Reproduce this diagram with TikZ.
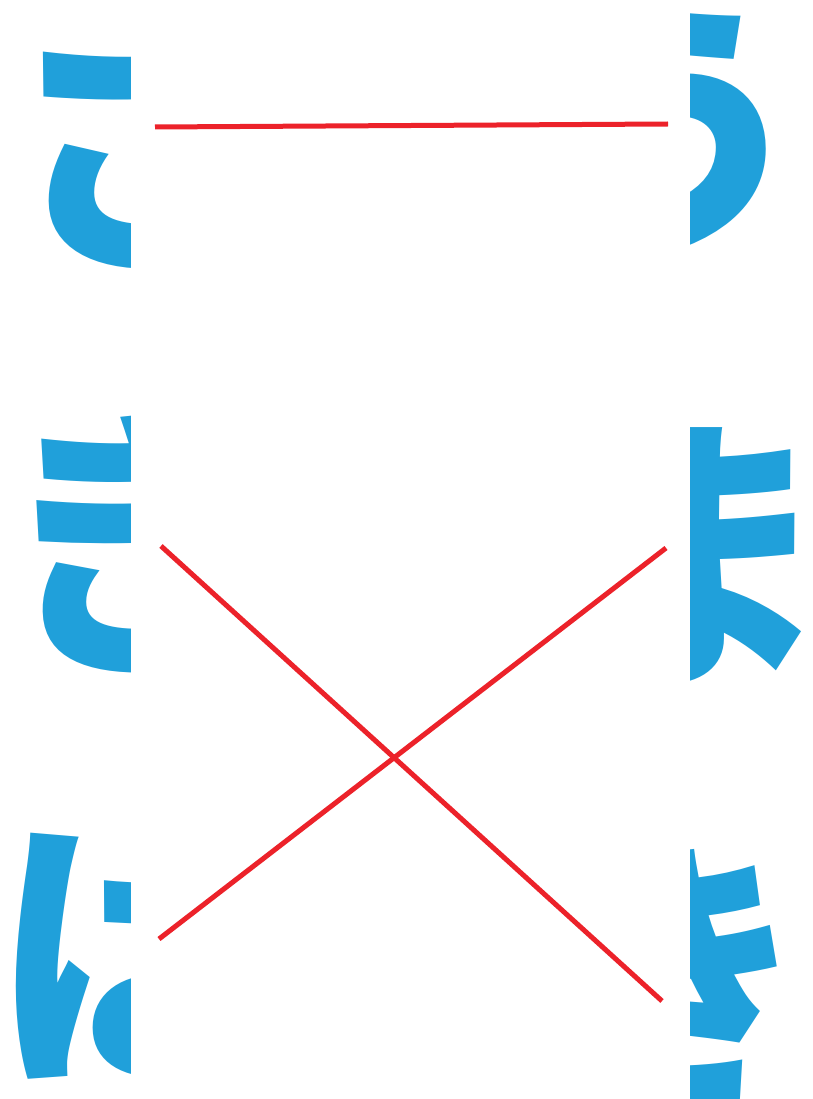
\documentclass[tikz,border=0pt]{standalone}
\usepackage{fontspec}
\newfontfamily\jp{Noto Sans CJK JP}
\definecolor{kblue}{RGB}{32,160,218}
\definecolor{kred}{RGB}{236,34,42}
\tikzset{
  glyph/.style={font=\jp\bfseries\fontsize{290}{290}\selectfont, text=kblue, inner sep=0pt, outer sep=0pt},
  link/.style={draw=kred, line width=5pt}
}
\begin{document}
\begin{tikzpicture}[x=1pt,y=-1pt]
\useasboundingbox[fill=white] (0,0) rectangle (812,1099);
% left column (clipped at x=130)
\begin{scope}
\clip (0,0) rectangle (130,1099);
\node[glyph] (L1) at (150,139) {さ};
\node[glyph] (L2) at (142,543) {き};
\node[glyph] (L3) at (138,956) {は};
\end{scope}
% right column (clipped at x=690)
\begin{scope}
\clip (690,0) rectangle (812,1099);
\node[glyph] (R1) at (668,133) {う};
\node[glyph] (R2) at (690,556) {ま};
\node[glyph] (R3) at (668,980) {き};
\end{scope}
% line ends
\coordinate (a1) at (155,127);
\coordinate (b1) at (668,124);
\coordinate (a2) at (161,546);
\coordinate (b3) at (662,1001);
\coordinate (a3) at (159,939);
\coordinate (b2) at (666,548);
\draw[link] (a1) -- (b1);
\draw[link] (a2) -- (b3);
\draw[link] (a3) -- (b2);
\end{tikzpicture}
\end{document}
